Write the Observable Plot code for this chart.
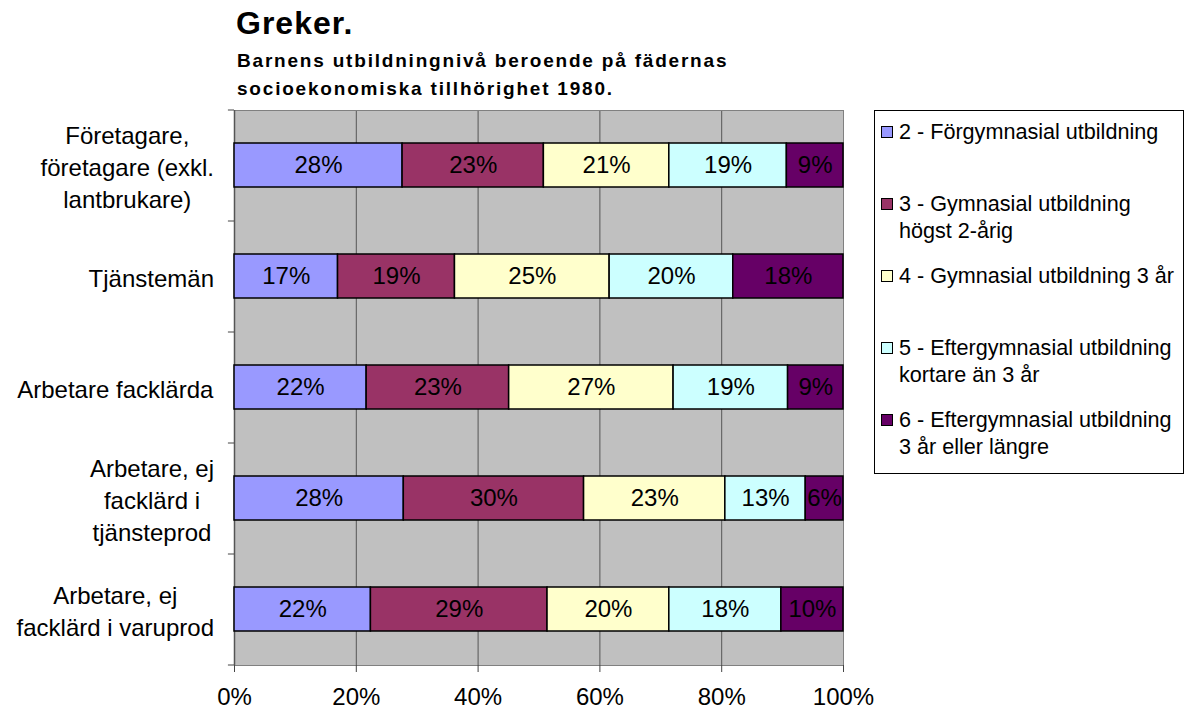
<!DOCTYPE html>
<html>
<head>
<meta charset="utf-8">
<script src="https://cdn.jsdelivr.net/npm/d3@7"></script>
<script src="https://cdn.jsdelivr.net/npm/@observablehq/plot@0.6"></script>
<style>
  body { margin: 0; background: white; }
  #wrap { position: relative; width: 1186px; height: 711px; font-family: "Liberation Sans", Arial, sans-serif; color: black; }
  #title { position: absolute; left: 236px; top: 7px; font-size: 32px; font-weight: bold; line-height: 1; letter-spacing: 1px; white-space: nowrap; }
  #subtitle { position: absolute; left: 237px; top: 47px; font-size: 19px; font-weight: bold; line-height: 28px; letter-spacing: 1.8px; white-space: nowrap; }
  #chart { position: absolute; left: 0; top: 100px; }
  #legend { position: absolute; left: 874px; top: 110px; width: 310px; height: 364px; border: 1px solid black; background: white; box-sizing: border-box; padding-top: 7px; overflow: hidden; }
  .item { position: relative; height: 72px; padding-left: 24px; font-size: 21.6px; line-height: 27px; white-space: nowrap; }
  .sw { position: absolute; left: 6px; top: 8px; width: 10px; height: 10px; border: 1px solid black; }
</style>
</head>
<body>
<div id="wrap">
  <div id="title">Greker.</div>
  <div id="subtitle">Barnens utbildningnivå beroende på fädernas<br>socioekonomiska tillhörighet 1980.</div>
  <div id="chart"></div>
  <div id="legend"></div>
</div>
<script>
// Categories (father's socio-economic group), top to bottom
const categories = [
  "Företagare,\nföretagare (exkl.\nlantbrukare)",
  "Tjänstemän",
  "Arbetare facklärda",
  "Arbetare, ej\nfacklärd i\ntjänsteprod",
  "Arbetare, ej\nfacklärd i varuprod"
];

// Series (children's education level)
const seriesNames = [
  "2 - Förgymnasial utbildning",
  "3 - Gymnasial utbildning högst 2-årig",
  "4 - Gymnasial utbildning 3 år",
  "5 - Eftergymnasial utbildning kortare än 3 år",
  "6 - Eftergymnasial utbildning 3 år eller längre"
];
const legendLines = [
  ["2 - Förgymnasial utbildning"],
  ["3 - Gymnasial utbildning", "högst 2-årig"],
  ["4 - Gymnasial utbildning 3 år"],
  ["5 - Eftergymnasial utbildning", "kortare än 3 år"],
  ["6 - Eftergymnasial utbildning", "3 år eller längre"]
];
const seriesColors = ["#9999FF", "#993366", "#FFFFCC", "#CCFFFF", "#660066"];

// Percent values per series, in category order
const level2 = [27.6, 17.0, 21.7, 27.8, 22.4];
const level3 = [23.2, 19.2, 23.4, 29.6, 29.0];
const level4 = [20.6, 25.4, 27.0, 23.2, 20.0];
const level5 = [19.3, 20.3, 18.8, 13.2, 18.4];
const level6 = [9.3, 18.1, 9.1, 6.2, 10.2];

const xTicks = [0, 20, 40, 60, 80, 100];

const seriesValues = [level2, level3, level4, level5, level6];
const data = [];
categories.forEach((cat, i) => {
  seriesNames.forEach((s, j) => {
    data.push({cat, series: s, value: seriesValues[j][i]});
  });
});

const fontFamily = '"Liberation Sans", Arial, sans-serif';
const W = 1186, H = 611, mL = 234, mR = 343, mT = 10, mB = 46;
const step = (H - mT - mB) / categories.length;

const chart = Plot.plot({
  width: W,
  height: H,
  marginLeft: mL,
  marginRight: mR,
  marginTop: mT,
  marginBottom: mB,
  style: {fontFamily, fontSize: "24px", color: "black", background: "transparent", overflow: "visible"},
  x: {domain: [0, 100], label: null},
  y: {domain: categories, paddingInner: 0.6, paddingOuter: 0.3, label: null},
  color: {domain: seriesNames, range: seriesColors},
  marks: [
    Plot.frame({fill: "#C0C0C0", stroke: null}),
    Plot.ruleX(xTicks.filter(d => d > 0 && d < 100), {stroke: "#555555", strokeWidth: 1}),
    Plot.frame({stroke: "#808080", strokeWidth: 1}),
    Plot.ruleX([0], {stroke: "#555555", strokeWidth: 1.5}),
    Plot.barX(data, Plot.stackX({
      x: "value", y: "cat", fill: "series", order: seriesNames,
      stroke: "black", strokeWidth: 1.5
    })),
    Plot.text(data, Plot.stackX({
      x: "value", y: "cat", z: "series", order: seriesNames,
      text: d => Math.round(d.value) + "%",
      fontSize: 24, fill: "black"
    })),
    Plot.ruleY(categories, {y: d => d, x1: -1, x2: 0, dy: -step / 2, stroke: "#444444"}),
    Plot.ruleY([categories[categories.length - 1]], {y: d => d, x1: -1, x2: 0, dy: step / 2, stroke: "#444444"}),
    Plot.axisX({ticks: xTicks, tickFormat: d => d + "%", tickSize: 7, tickPadding: 15, fontSize: 24, stroke: "#444444", label: null}),
    Plot.axisY({tickSize: 0, tickPadding: 19, fontSize: 24, textAnchor: "middle", lineHeight: 1.33, label: null})
  ]
});

document.getElementById("chart").appendChild(chart);

// Right-align each (centred, multi-line) category label block against the axis
const rightEdge = mL - 20;
const svgLeft = chart.getBoundingClientRect().left;
chart.querySelectorAll('g[aria-label="y-axis tick label"] text').forEach(t => {
  const r = t.getBoundingClientRect();
  const shift = rightEdge - (r.right - svgLeft);
  const m = t.transform.baseVal.consolidate();
  const ty = m ? m.matrix.f : 0;
  const tx = m ? m.matrix.e : 0;
  t.setAttribute("transform", `translate(${tx + shift},${ty})`);
});

// Legend
const legend = document.getElementById("legend");
legendLines.forEach((lines, j) => {
  const it = document.createElement("div");
  it.className = "item";
  const sw = document.createElement("div");
  sw.className = "sw";
  sw.style.background = seriesColors[j];
  it.appendChild(sw);
  lines.forEach((ln, k) => {
    if (k > 0) it.appendChild(document.createElement("br"));
    it.appendChild(document.createTextNode(ln));
  });
  legend.appendChild(it);
});
</script>
</body>
</html>
